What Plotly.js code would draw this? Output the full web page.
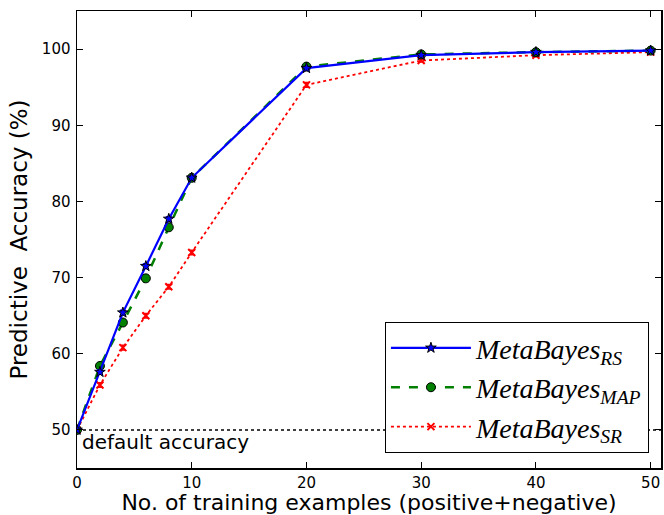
<!DOCTYPE html>
<html>
<head>
<meta charset="utf-8">
<script src="https://cdn.plot.ly/plotly-3.0.1.min.js"></script>
<style>html,body{margin:0;padding:0;background:#fff;}#chart{width:664px;height:515px;}</style>
</head>
<body>
<div id="chart"></div>
<script>
const xExamples = [0, 2, 4, 6, 8, 10, 20, 30, 40, 50];
const rsAcc  = [50.0, 57.6, 65.4, 71.5, 77.7, 83.1, 97.5, 99.2, 99.6, 99.8];
const rsErr  = [0.2, 0.3, 0.3, 0.3, 0.3, 0.2, 0.2, 0.1, 0.1, 0.1];
const mapAcc = [50.0, 58.4, 64.1, 69.9, 76.6, 83.1, 97.7, 99.3, 99.6, 99.8];
const mapErr = [0.2, 0.3, 0.3, 0.3, 0.3, 0.2, 0.2, 0.1, 0.1, 0.1];
const srAcc  = [50.0, 55.9, 60.8, 65.0, 68.8, 73.3, 95.3, 98.5, 99.2, 99.6];
const srErr  = [0.3, 0.3, 0.3, 0.3, 0.3, 0.3, 0.3, 0.2, 0.2, 0.2];
const defaultX = [0, 51];
const defaultY = [50, 50];

const traces = [
  {x: defaultX, y: defaultY, mode: 'lines', line: {color: 'black', dash: 'dot', width: 1.5}, showlegend: false, hoverinfo: 'skip'},
  {x: xExamples, y: srAcc, name: '<i>MetaBayes</i><sub><i>SR</i></sub>', mode: 'lines+markers',
   line: {color: '#ff0000', dash: 'dot', width: 1.8},
   marker: {symbol: 'x-thin', size: 7, color: '#ff0000', line: {color: '#ff0000', width: 2}},
   error_y: {type: 'data', array: srErr, color: '#ff0000', thickness: 1.5, width: 3}},
  {x: xExamples, y: mapAcc, name: '<i>MetaBayes</i><sub><i>MAP</i></sub>', mode: 'lines+markers',
   line: {color: '#007f00', dash: 'dash', width: 2.5},
   marker: {symbol: 'circle', size: 9, color: '#007f00', line: {color: 'black', width: 1}},
   error_y: {type: 'data', array: mapErr, color: '#007f00', thickness: 1.5, width: 3}},
  {x: xExamples, y: rsAcc, name: '<i>MetaBayes</i><sub><i>RS</i></sub>', mode: 'lines+markers',
   line: {color: '#0000ff', width: 2.2},
   marker: {symbol: 'star', size: 8, color: '#0000ff', line: {color: 'black', width: 1}},
   error_y: {type: 'data', array: rsErr, color: '#0000ff', thickness: 1.5, width: 3}}
];

const layout = {
  width: 664, height: 515,
  margin: {l: 77, r: 3, t: 11, b: 47},
  paper_bgcolor: 'white', plot_bgcolor: 'white',
  font: {family: 'DejaVu Sans', color: 'black'},
  showlegend: true,
  legend: {
    x: 0.979, xanchor: 'right', y: 0.033, yanchor: 'bottom',
    bordercolor: 'black', borderwidth: 1.2, bgcolor: 'white',
    traceorder: 'reversed',
    font: {family: 'Liberation Serif', size: 28, color: 'black'},
    itemwidth: 80, tracegroupgap: 2
  },
  xaxis: {
    range: [0, 50.9], tickvals: [0, 10, 20, 30, 40, 50],
    ticks: 'inside', ticklen: 6, tickwidth: 1, tickcolor: 'black',
    showline: true, linecolor: 'black', linewidth: 1.5, mirror: 'ticks',
    showgrid: false, zeroline: false,
    tickfont: {size: 15, family: 'DejaVu Sans'},
    title: {text: 'No. of training examples (positive+negative)', font: {size: 22, family: 'DejaVu Sans'}, standoff: 3}
  },
  yaxis: {
    range: [45, 105], tickvals: [50, 60, 70, 80, 90, 100],
    ticks: 'inside', ticklen: 6, tickwidth: 1, tickcolor: 'black',
    showline: true, linecolor: 'black', linewidth: 1.5, mirror: 'ticks',
    showgrid: false, zeroline: false, ticklabelstandoff: 2,
    tickfont: {size: 15, family: 'DejaVu Sans'},
    title: {text: 'Predictive\u00a0 Accuracy (%)', font: {size: 23, family: 'DejaVu Sans'}, standoff: 8}
  },
  annotations: [{
    x: 0.3, y: 50, xref: 'x', yref: 'y', xanchor: 'left', yanchor: 'top',
    text: 'default accuracy', showarrow: false, yshift: 2,
    font: {size: 20, family: 'DejaVu Sans', color: 'black'}
  }]
};

Plotly.newPlot('chart', traces, layout, {displayModeBar: false, staticPlot: true});
</script>
</body>
</html>
